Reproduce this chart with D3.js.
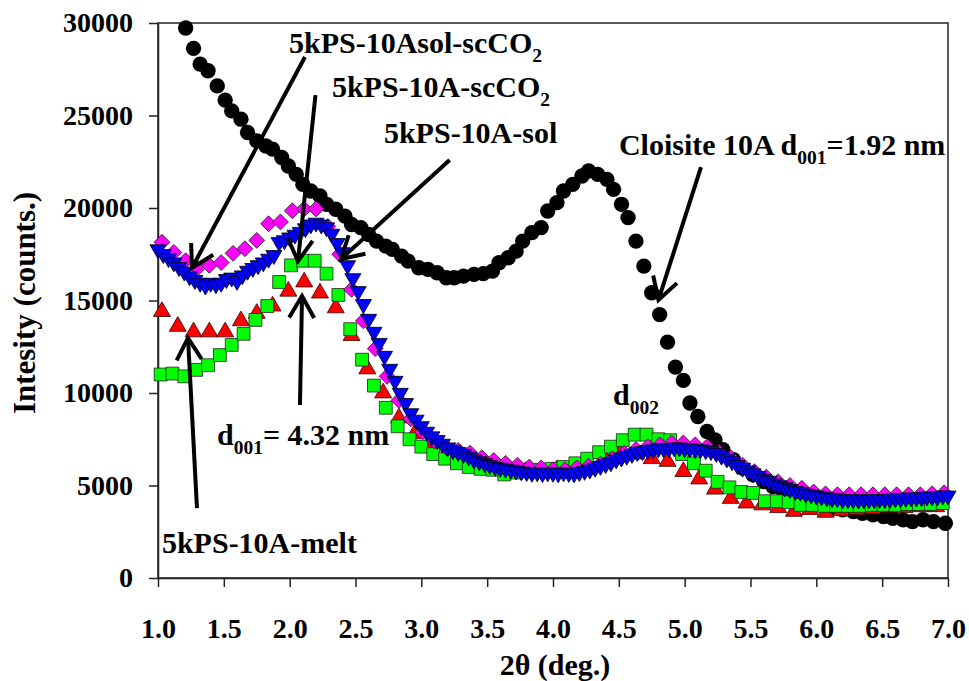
<!DOCTYPE html>
<html>
<head>
<meta charset="utf-8">
<script src="https://d3js.org/d3.v7.min.js"></script>
<style>
  body { margin: 0; background: #fff; }
  text { font-family: "Liberation Serif", "Times New Roman", serif; font-weight: bold; fill: #000; }
</style>
</head>
<body>
<script>
// Cloisite 10A (black circles)
var cloisiteX = [1.21,1.27,1.32,1.38,1.45,1.51,1.56,1.63,1.68,1.75,
  1.82,1.87,1.94,1.99,2.05,2.10,2.16,2.23,2.28,2.35,
  2.42,2.47,2.54,2.60,2.66,2.73,2.78,2.85,2.90,2.98,
  3.05,3.12,3.19,3.25,3.32,3.40,3.47,3.54,3.59,3.66,
  3.72,3.77,3.84,3.91,3.96,4.03,4.08,4.15,4.22,4.27,
  4.34,4.41,4.46,4.52,4.57,4.63,4.69,4.75,4.81,4.87,
  4.93,4.99,5.04,5.10,5.17,5.23,5.29,5.37,5.44,5.52,
  5.60,5.67,5.75,5.82,5.90,5.98,6.05,6.13,6.20,6.28,
  6.35,6.43,6.51,6.58,6.66,6.73,6.81,6.89,6.98];
var cloisiteY = [29730,28630,27780,27420,26600,25830,25250,24800,24080,23630,
  23350,23180,22730,22270,21820,21280,20920,20650,20200,19930,
  19560,19110,18940,18570,18210,17940,17760,17400,17130,16770,
  16680,16500,16230,16230,16320,16410,16450,16590,17040,17310,
  17670,18210,18670,18940,19840,20290,20920,21280,21730,22000,
  21820,21550,21010,20200,19480,18210,16860,15420,14240,12750,
  11400,10680,9460,8730,7920,7470,6930,6390,5940,5580,
  5210,4940,4670,4400,4220,4050,3950,3860,3680,3590,
  3500,3410,3320,3230,3140,3050,3150,3050,2960];

// 5kPS-10A-melt (red triangles)
var meltX = [1.03,1.15,1.27,1.39,1.51,1.63,1.75,1.87,1.99,2.11,
  2.23,2.35,2.47,2.59,2.71,2.83,2.95,3.07,3.19,3.31,
  3.43,3.55,3.67,3.79,3.91,4.03,4.15,4.27,4.39,4.51,
  4.63,4.75,4.87,4.99,5.11,5.23,5.35,5.47,5.59,5.71,
  5.83,5.95,6.07,6.19,6.31,6.43,6.55,6.67,6.79,6.91];
var meltY = [14400,13600,13300,13300,13300,13900,14300,14700,15500,16000,
  15400,14600,13100,11300,10000,8650,7800,7200,6600,6300,
  6100,5900,5800,5750,5800,5850,6000,6200,6500,6800,
  6700,6450,6300,5750,5350,4800,4300,4050,3950,3800,
  3600,3700,3550,3650,3700,3750,3800,3800,3850,3850];

// 5kPS-10A-scCO2 (green squares)
var scco2X = [1.02,1.11,1.20,1.29,1.38,1.47,1.56,1.65,1.74,1.83,
  1.92,2.01,2.10,2.19,2.28,2.37,2.46,2.55,2.64,2.73,
  2.82,2.91,3.00,3.09,3.18,3.27,3.36,3.45,3.54,3.63,
  3.72,3.81,3.90,3.99,4.08,4.17,4.26,4.35,4.44,4.53,
  4.62,4.71,4.80,4.89,4.98,5.07,5.16,5.25,5.34,5.43,
  5.52,5.61,5.70,5.79,5.88,5.97,6.06,6.15,6.24,6.33,
  6.42,6.51,6.60,6.69,6.78,6.87,6.96];
var scco2Y = [11000,11050,10900,11250,11500,12050,12600,13200,13950,14700,
  16000,16900,17150,17150,16450,15300,13450,11800,10400,9200,
  8200,7500,7100,6700,6450,6200,6000,5900,5850,5600,
  5700,5800,5850,5900,6000,6200,6450,6800,7100,7450,
  7750,7750,7500,7450,6700,6200,5800,5200,4900,4650,
  4600,4150,4150,4100,3950,3950,3900,3900,3900,3900,
  3950,3950,3950,4000,4000,4000,4050];

// 5kPS-10Asol-scCO2 (magenta diamonds)
var solScco2X = [1.03,1.12,1.21,1.30,1.39,1.48,1.57,1.66,1.75,1.84,
  1.93,2.02,2.11,2.20,2.29,2.38,2.47,2.56,2.65,2.74,
  2.83,2.92,3.01,3.10,3.19,3.28,3.37,3.46,3.55,3.64,
  3.73,3.82,3.91,4.00,4.09,4.18,4.27,4.36,4.45,4.54,
  4.63,4.72,4.81,4.90,4.99,5.08,5.17,5.26,5.35,5.44,
  5.53,5.62,5.71,5.80,5.89,5.98,6.07,6.16,6.25,6.34,
  6.43,6.52,6.61,6.70,6.79,6.88,6.97];
var solScco2Y = [18150,17600,17150,16750,16900,17050,17550,17800,18250,19150,
  19250,19850,19950,19950,19000,17500,15600,13900,12400,10900,
  9600,8600,7900,7400,7050,6900,6750,6500,6350,6200,
  6100,6000,5950,5850,5850,5950,6050,6150,6450,6750,
  6950,7100,7200,7300,7300,7200,7100,6800,6500,6100,
  5750,5450,5200,5000,4850,4650,4550,4500,4500,4500,
  4500,4500,4500,4500,4500,4550,4600];

// 5kPS-10A-sol (blue down triangles)
var solX = [1.00,1.04,1.08,1.12,1.16,1.20,1.24,1.28,1.32,1.36,
  1.40,1.44,1.48,1.52,1.56,1.60,1.64,1.68,1.72,1.76,
  1.80,1.84,1.88,1.92,1.96,2.00,2.04,2.08,2.12,2.16,
  2.20,2.24,2.28,2.32,2.36,2.40,2.44,2.48,2.52,2.56,
  2.60,2.64,2.68,2.72,2.76,2.80,2.84,2.88,2.92,2.96,
  3.00,3.04,3.08,3.12,3.16,3.20,3.24,3.28,3.32,3.36,
  3.40,3.44,3.48,3.52,3.56,3.60,3.64,3.68,3.72,3.76,
  3.80,3.84,3.88,3.92,3.96,4.00,4.04,4.08,4.12,4.16,
  4.20,4.24,4.28,4.32,4.36,4.40,4.44,4.48,4.52,4.56,
  4.60,4.64,4.68,4.72,4.76,4.80,4.84,4.88,4.92,4.96,
  5.00,5.04,5.08,5.12,5.16,5.20,5.24,5.28,5.32,5.36,
  5.40,5.44,5.48,5.52,5.56,5.60,5.64,5.68,5.72,5.76,
  5.80,5.84,5.88,5.92,5.96,6.00,6.04,6.08,6.12,6.16,
  6.20,6.24,6.28,6.32,6.36,6.40,6.44,6.48,6.52,6.56,
  6.60,6.64,6.68,6.72,6.76,6.80,6.84,6.88,6.92,6.96,
  7.00];
var solY = [17760,17500,17280,17050,16800,16550,16300,16100,15950,15800,
  15950,15870,15950,16150,16230,16050,16350,16600,16750,16900,
  17050,17250,17450,18150,18250,18400,18550,18700,18900,19100,
  19200,19100,18950,18600,18100,17600,16900,16200,15500,14800,
  14000,13300,12700,12000,11300,10650,10000,9450,8900,8550,
  8200,7900,7650,7450,7250,7050,6900,6800,6700,6550,
  6400,6300,6200,6100,6000,5950,5900,5850,5800,5750,
  5720,5680,5700,5660,5700,5680,5650,5700,5670,5650,
  5720,5780,5850,5950,6050,6150,6250,6400,6500,6600,
  6700,6800,6850,6900,6950,7000,7000,7000,7050,7050,
  7000,7000,6950,6950,6900,6850,6750,6600,6450,6300,
  6100,5950,5800,5650,5500,5350,5250,5100,5000,4900,
  4800,4700,4650,4550,4500,4450,4400,4350,4300,4300,
  4250,4250,4250,4230,4250,4240,4250,4260,4250,4270,
  4300,4300,4310,4350,4340,4350,4400,4390,4400,4450,
  4450];

var xTicks = [1.0,1.5,2.0,2.5,3.0,3.5,4.0,4.5,5.0,5.5,6.0,6.5,7.0];
var yTicks = [0,5000,10000,15000,20000,25000,30000];

var width = 969, height = 681;

var svg = d3.select("body").append("svg")
    .attr("width", width)
    .attr("height", height);

svg.append("rect").attr("width", width).attr("height", height).attr("fill", "#fff");

var x = d3.scaleLinear().domain([1, 7]).range([158, 948]);
var y = d3.scaleLinear().domain([0, 30000]).range([578, 23]);

// frame
svg.append("rect")
    .attr("x", x(1)).attr("y", y(30000))
    .attr("width", x(7) - x(1)).attr("height", y(0) - y(30000))
    .attr("fill", "none").attr("stroke", "#222").attr("stroke-width", 1.5);

var xAxis = svg.append("g")
    .attr("transform", "translate(0," + y(0) + ")")
    .call(d3.axisBottom(x).tickValues(xTicks).tickFormat(d3.format(".1f"))
      .tickSize(9).tickSizeOuter(0).tickPadding(31));

var yAxis = svg.append("g")
    .attr("transform", "translate(" + x(1) + ",0)")
    .call(d3.axisLeft(y).tickValues(yTicks).tickFormat(d3.format("d"))
      .tickSize(9).tickSizeOuter(0).tickPadding(16));

svg.selectAll(".domain").attr("stroke", "#222").attr("stroke-width", 1.5);
svg.selectAll(".tick line").attr("stroke", "#222").attr("stroke-width", 1.5);
svg.selectAll(".tick text")
    .attr("font-family", "Liberation Serif, Times New Roman, serif")
    .attr("font-weight", "bold")
    .attr("font-size", 28)
    .attr("fill", "#000");

// axis titles
svg.append("text")
    .attr("x", 555).attr("y", 675)
    .attr("text-anchor", "middle")
    .attr("font-size", 30)
    .text("2\u03B8 (deg.)");

svg.append("text")
    .attr("transform", "translate(35,303) rotate(-90)")
    .attr("text-anchor", "middle")
    .attr("font-size", 31)
    .text("Intesity (counts.)");

// series
function series(xs, ys, type, size, fill, stroke, rot) {
  var pts = xs.map(function(d, i) { return [d, ys[i]]; });
  svg.append("g").selectAll("path")
    .data(pts)
    .enter()
    .append("path")
    .attr("d", d3.symbol().type(type).size(size))
    .attr("transform", function(d) {
      return "translate(" + x(d[0]) + "," + y(d[1]) + ") rotate(" + rot + ")";
    })
    .attr("fill", fill)
    .attr("stroke", stroke)
    .attr("stroke-width", stroke == "none" ? 0 : 0.8);
}

series(cloisiteX, cloisiteY, d3.symbolCircle, 185, "#000", "none", 0);
series(meltX, meltY, d3.symbolTriangle, 125, "#ff0000", "#300", 0);
series(scco2X, scco2Y, d3.symbolSquare, 165, "#00ff00", "#222", 0);
series(solScco2X, solScco2Y, d3.symbolSquare, 125, "#ff00ff", "#222", 45);
series(solX, solY, d3.symbolTriangle, 112, "#0000ff", "#000", 180);

// arrows (data coordinates)
var arrows = [
  { x1: 2.116, y1: 28160, x2: 1.258, y2: 16760 },
  { x1: 2.196, y1: 26100, x2: 2.063, y2: 17130 },
  { x1: 3.215, y1: 22590, x2: 2.390, y2: 17240 },
  { x1: 5.124, y1: 22210, x2: 4.801, y2: 15030 },
  { x1: 2.078, y1: 9350,  x2: 2.094, y2: 15240 },
  { x1: 1.296, y1: 3780,  x2: 1.228, y2: 12970 }
];

arrows.forEach(function(a) {
  var x1 = x(a.x1), y1 = y(a.y1), x2 = x(a.x2), y2 = y(a.y2);
  var ang = Math.atan2(y1 - y2, x1 - x2);
  var L = 25, h = Math.PI / 6;
  svg.append("path")
    .attr("d", "M" + x1 + "," + y1 + "L" + x2 + "," + y2)
    .attr("stroke", "#000").attr("stroke-width", 4).attr("fill", "none");
  svg.append("path")
    .attr("d", "M" + (x2 + L * Math.cos(ang + h)) + "," + (y2 + L * Math.sin(ang + h)) +
               "L" + x2 + "," + y2 +
               "L" + (x2 + L * Math.cos(ang - h)) + "," + (y2 + L * Math.sin(ang - h)))
    .attr("stroke", "#000").attr("stroke-width", 4).attr("fill", "none")
    .attr("stroke-linejoin", "miter");
});

// labels with subscripts
var labels = [
  { x: 1.995, y: 28380, parts: [["5kPS-10Asol-scCO", 0], ["2", 1]] },
  { x: 2.321, y: 26000, parts: [["5kPS-10A-scCO", 0], ["2", 1]] },
  { x: 2.716, y: 23510, parts: [["5kPS-10A-sol", 0]] },
  { x: 4.501, y: 22860, parts: [["Cloisite 10A d", 0], ["001", 1], ["=1.92 nm", 0]] },
  { x: 4.456, y: 9350,  parts: [["d", 0], ["002", 1]] },
  { x: 1.448, y: 7190,  parts: [["d", 0], ["001", 1], ["= 4.32 nm", 0]] },
  { x: 1.030, y: 1350,  parts: [["5kPS-10A-melt", 0]] }
];

var fs = 30;
labels.forEach(function(l) {
  var t = svg.append("text")
    .attr("x", x(l.x)).attr("y", y(l.y))
    .attr("font-size", fs);
  var shifted = 0;
  l.parts.forEach(function(p) {
    var ts = t.append("tspan").text(p[0]);
    if (p[1]) {
      ts.attr("font-size", fs * 0.65).attr("dy", fs * 0.3);
      shifted = fs * 0.3;
    } else if (shifted) {
      ts.attr("dy", -shifted);
      shifted = 0;
    }
  });
});
</script>
</body>
</html>
